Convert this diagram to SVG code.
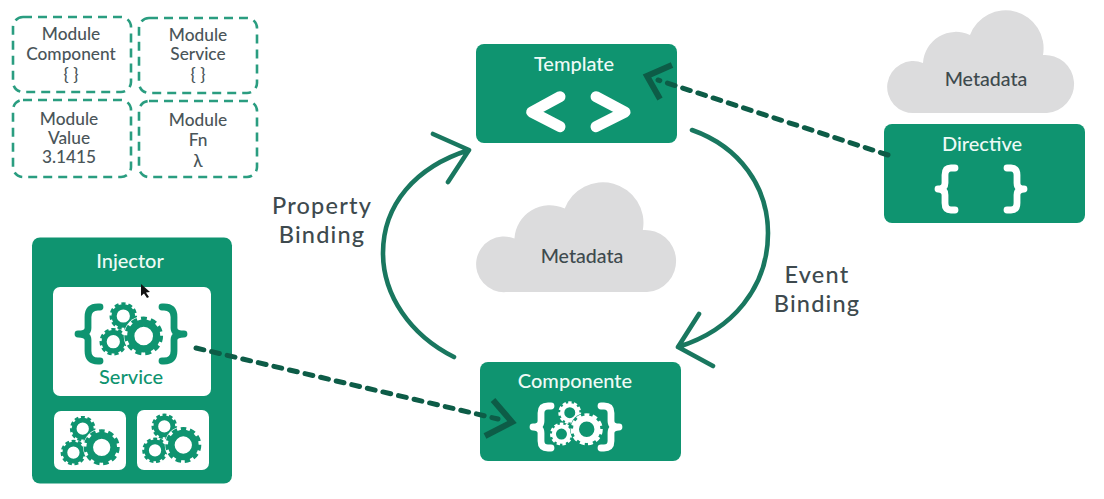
<svg xmlns="http://www.w3.org/2000/svg" xmlns:xlink="http://www.w3.org/1999/xlink" width="1104" height="499" viewBox="0 0 1104 499">
<style>
text{font-family:"Lato","Liberation Sans",sans-serif;font-weight:500;text-anchor:middle}
.box{fill:#0f9470}
.panel{fill:#fff}
.mod{fill:none;stroke:#2a9d80;stroke-width:2.6;stroke-dasharray:9 6}
.cloud{fill:#dcdcdd}
.t{font-size:20px;fill:#eefaf6}
.m{font-size:17.3px;fill:#4a5559}
.d{font-size:19.6px;fill:#3e4a4e}
.l{font-size:23.5px;letter-spacing:1.2px;fill:#3e4a4e}
.brace{fill:none;stroke-width:6.8;stroke-linecap:round;stroke-linejoin:round}
.arc{fill:none;stroke:#19775f;stroke-width:4.6;stroke-linecap:round;stroke-linejoin:round}
.dash{fill:none;stroke:#0d5c47;stroke-width:5;stroke-linecap:round;stroke-dasharray:8 8}
.head{fill:none;stroke:#0d5c47;stroke-width:6}
.chev{fill:none;stroke:#fff;stroke-width:11;stroke-linecap:round;stroke-linejoin:round}
</style>
<defs>
<g id="gear">
<circle r="0.68" fill="none" stroke="currentColor" stroke-width="0.38"/>
<circle r="0.88" fill="none" stroke="currentColor" stroke-width="0.28" pathLength="20" stroke-dasharray="1.2 0.8"/>
</g>
<g id="gears">
<use xlink:href="#gear" href="#gear" transform="translate(-20.4,-20) scale(13.5)"/>
<use xlink:href="#gear" href="#gear" transform="translate(-30.4,5.7) scale(13.5)"/>
<circle r="20"/>
<use xlink:href="#gear" href="#gear" transform="scale(19)"/>
</g>
<path id="cl" d="M915 113A26 26 0 1 1 923 63A33 33 0 0 1 970 35A38 38 0 0 1 1043 55A29 29 0 1 1 1047 113Z"/>
</defs>
<rect width="1104" height="499" fill="#fff"/>

<g id="module-component"><rect class="mod" x="13" y="17" width="118" height="75" rx="10"/>
<text class="m" x="71" y="40">Module</text><text class="m" x="71" y="60">Component</text><text class="m" x="71" y="80">{ }</text></g>
<g id="module-service"><rect class="mod" x="139" y="18" width="118" height="75" rx="10"/>
<text class="m" x="198" y="41">Module</text><text class="m" x="198" y="60">Service</text><text class="m" x="198" y="80">{ }</text></g>
<g id="module-value"><rect class="mod" x="13" y="100" width="118" height="77" rx="10"/>
<text class="m" x="69" y="125">Module</text><text class="m" x="69" y="144">Value</text><text class="m" x="69" y="163">3.1415</text></g>
<g id="module-fn"><rect class="mod" x="139" y="101" width="118" height="76" rx="10"/>
<text class="m" x="198" y="126">Module</text><text class="m" x="198" y="146">Fn</text><text class="m" x="198" y="167">λ</text></g>

<g id="template"><rect class="box" x="476" y="44" width="201" height="99" rx="8"/>
<text class="t" x="574" y="71">Template</text>
<path class="chev" d="M560 96.7L531.7 112L560 126.7M596 96.7L625 112L596 126.7"/></g>

<g id="directive-metadata"><use xlink:href="#cl" href="#cl" class="cloud"/><text class="d" x="986" y="86">Metadata</text></g>
<g id="directive"><rect class="box" x="884" y="124" width="201" height="99" rx="8"/>
<text class="t" x="982" y="151">Directive</text>
<g class="brace" stroke="#fff"><path d="M955 168H951Q945 168 945 175V183Q945 189 938 189Q945 189 945 195V203Q945 210 951 210H955"/><path d="M1007 168H1011Q1017 168 1017 175V183Q1017 189 1024 189Q1017 189 1017 195V203Q1017 210 1011 210H1007"/></g></g>

<g id="center-metadata"><use xlink:href="#cl" href="#cl" class="cloud" transform="translate(477,184) scale(1.07) translate(-888,-12)"/><text class="d" x="582" y="263">Metadata</text></g>

<g id="componente"><rect class="box" x="480" y="362" width="201" height="99" rx="8"/>
<text class="t" x="575" y="388">Componente</text>
<g class="brace" stroke="#fff"><path d="M551 406H548Q541 406 541 413V421Q541 427 533 427Q541 427 541 433V441Q541 448 548 448H551"/><path d="M601 406H604Q611 406 611 413V421Q611 427 619 427Q611 427 611 433V441Q611 448 604 448H601"/></g>
<use xlink:href="#gears" href="#gears" transform="translate(586.7,429.3) scale(0.83)" color="#fff" fill="#0f9470"/></g>

<g id="injector"><rect class="box" x="32" y="237.5" width="200" height="246" rx="8"/>
<text class="t" x="130" y="268">Injector</text>
<rect class="panel" x="53" y="287" width="158" height="109" rx="7"/>
<rect class="panel" x="54" y="411" width="72" height="59" rx="7"/>
<rect class="panel" x="137" y="410" width="72" height="60" rx="7"/>
<g class="brace" stroke="#0f9470"><path d="M100 307H98Q88 307 88 317V328Q88 334 78 334Q88 334 88 340V351Q88 361 98 361H100"/><path d="M162 307H164Q174 307 174 317V328Q174 334 184 334Q174 334 174 340V351Q174 361 164 361H162"/></g>
<use xlink:href="#gears" href="#gears" transform="translate(143.7,336)" color="#0f9470" fill="#fff"/>
<text x="131" y="384" style="font-size:20px;fill:#0f9470">Service</text>
<use xlink:href="#gears" href="#gears" transform="translate(101.7,447.3) scale(0.93)" color="#0f9470" fill="#fff"/>
<use xlink:href="#gears" href="#gears" transform="translate(183.3,445) scale(0.93)" color="#0f9470" fill="#fff"/>
<path d="M141 284L141 296L144 293.500L147 298L149 297L146 292.500L150 292Z" fill="#111"/></g>

<g id="connectors">
<path class="arc" d="M454 357C410 335 383 295 383 253C383 205 415 167 469 150M433 134L469 150L448 182"/>
<path class="arc" d="M692 130C740 147 768 187 768 233C768 287 733 330 678 347M699 314L678 347L713 366"/>
<path class="dash" d="M888 155L658 80"/><path class="head" d="M672 65L647 76L660 99"/>
<path class="dash" d="M196 348L498 419"/><path class="head" d="M493 400L512 422L485 436"/>
</g>

<text class="l" x="322" y="214">Property</text><text class="l" x="322" y="242.500">Binding</text>
<text class="l" x="817" y="283">Event</text><text class="l" x="817" y="311.500">Binding</text>
</svg>
